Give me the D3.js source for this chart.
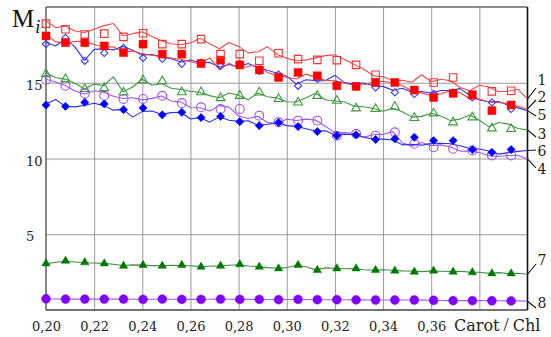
<!DOCTYPE html>
<html>
<head>
<meta charset="utf-8">
<script src="https://cdn.jsdelivr.net/npm/d3@7"></script>
<style>
  body { margin: 0; background: #fff; }
  svg { display: block; }
</style>
</head>
<body>
<svg id="chart" width="551" height="337"></svg>
<script>
// x positions of the markers and of the (denser) line points
var xMarks = [0.2000, 0.2081, 0.2161, 0.2242, 0.2322, 0.2403, 0.2483, 0.2564, 0.2644, 0.2725,
  0.2805, 0.2886, 0.2966, 0.3047, 0.3127, 0.3208, 0.3288, 0.3369, 0.3449, 0.3530,
  0.3610, 0.3691, 0.3771, 0.3852, 0.3932];
var xLine = [0.200, 0.204, 0.208, 0.212, 0.216, 0.220, 0.224, 0.228, 0.232, 0.236,
  0.240, 0.244, 0.248, 0.252, 0.256, 0.260, 0.264, 0.268, 0.272, 0.276,
  0.280, 0.284, 0.288, 0.292, 0.296, 0.300, 0.304, 0.308, 0.312, 0.316,
  0.320, 0.324, 0.328, 0.332, 0.336, 0.340, 0.344, 0.348, 0.352, 0.356,
  0.360, 0.364, 0.368, 0.372, 0.376, 0.380, 0.384, 0.388, 0.392, 0.396, 0.400];

var xTickLabels = [0.20, 0.22, 0.24, 0.26, 0.28, 0.30, 0.32, 0.34, 0.36];
var xGrid = [0.22, 0.24, 0.26, 0.28, 0.30, 0.32, 0.34, 0.36, 0.38];
var yTicks = [5, 10, 15];

// line values (on xLine)
var line1 = [19.08,18.64,18.75,18.42,18.32,18.53,18.77,18.91,18.09,18.24,
  18.36,18.05,17.76,17.57,17.51,17.63,17.93,17.57,17.24,17.66,
  17.40,16.97,17.05,17.37,16.87,16.61,16.45,16.51,16.64,16.79,
  16.84,16.53,16.20,15.89,15.46,15.39,15.15,15.17,15.03,15.53,
  15.07,15.23,15.13,14.69,14.47,14.84,14.72,14.41,14.44,14.57,13.93];
var line2 = [18.20,17.70,17.63,17.72,17.73,17.53,17.36,17.38,17.02,17.09,
  16.92,16.82,16.72,16.63,16.55,16.39,16.24,16.64,15.87,16.28,
  15.97,16.07,16.22,15.67,15.46,15.36,15.25,15.57,15.37,15.16,
  15.13,14.97,14.83,14.87,15.05,15.10,15.00,14.82,14.45,14.33,
  14.16,14.27,14.47,14.36,13.93,13.93,13.73,13.70,13.62,13.45,13.27];
var line5 = [17.65,17.43,17.89,17.37,16.48,17.20,17.24,17.17,17.40,17.14,
  16.82,16.87,16.71,16.58,16.37,16.50,16.34,16.33,16.04,16.20,
  16.05,16.27,16.00,15.82,15.63,15.43,14.91,15.20,15.14,15.13,
  15.49,15.01,14.91,14.98,14.80,14.76,14.51,14.64,14.37,14.42,
  14.32,14.49,14.49,14.61,14.18,13.86,13.75,13.76,13.52,13.34,13.16];
var line3 = [15.66,15.35,15.24,14.97,14.59,14.91,14.82,15.39,14.41,14.72,
  15.23,14.84,14.95,14.64,14.55,14.44,14.36,14.15,14.01,14.32,
  14.18,13.88,14.32,14.08,14.00,13.75,13.73,14.01,14.31,13.88,
  13.80,13.73,13.46,13.42,13.30,13.12,13.31,13.09,12.73,12.78,
  12.99,12.81,12.50,12.60,12.87,12.52,12.09,12.38,12.27,11.98,11.89];
var line6 = [13.60,13.90,13.45,13.41,13.52,13.65,13.49,13.19,13.24,12.73,
  13.11,13.14,12.91,13.03,13.05,12.61,12.70,12.40,12.76,12.53,
  12.45,12.49,12.19,12.26,12.35,12.17,12.12,11.96,11.81,11.83,
  11.57,11.61,11.57,11.40,11.28,11.28,11.22,10.90,10.93,10.88,
  11.00,11.01,10.97,10.84,10.66,10.63,10.49,10.29,10.39,10.47,10.53];
var line4 = [15.23,15.05,14.82,14.45,14.26,14.47,14.37,14.11,13.96,14.01,
  13.87,13.97,14.12,13.80,13.72,13.37,13.35,13.14,13.49,13.39,
  12.80,12.64,12.79,12.38,12.30,12.60,12.51,12.60,12.53,12.13,
  11.71,11.71,11.64,11.41,11.57,11.59,11.78,11.04,10.82,11.05,
  10.84,10.90,10.76,10.49,10.49,10.39,10.18,10.13,10.20,10.20,9.98];
var line7 = [3.05,3.15,3.22,3.17,3.12,3.10,3.08,3.02,2.94,2.98,
  2.96,2.93,2.91,2.95,2.94,2.92,2.86,2.89,2.91,2.95,
  2.99,2.90,2.86,2.80,2.76,2.80,2.94,2.85,2.65,2.78,
  2.76,2.72,2.74,2.66,2.63,2.66,2.62,2.58,2.57,2.53,
  2.58,2.56,2.54,2.56,2.50,2.49,2.42,2.47,2.41,2.43,2.36];
var line8 = [0.74,0.73,0.72,0.72,0.72,0.72,0.72,0.72,0.72,0.71,
  0.70,0.71,0.72,0.71,0.70,0.70,0.70,0.71,0.72,0.71,
  0.70,0.70,0.70,0.69,0.68,0.69,0.70,0.69,0.68,0.68,
  0.68,0.68,0.67,0.67,0.66,0.66,0.66,0.66,0.66,0.65,
  0.64,0.63,0.62,0.62,0.62,0.62,0.61,0.61,0.60,0.60,0.58];

// marker values (on xMarks), null = marker not visible
var marks1 = [18.90,18.53,18.19,18.24,18.03,18.27,17.55,17.55,17.88,16.89,16.89,16.45,16.95,
  16.56,16.51,16.49,16.18,15.53,null,null,15.02,15.35,null,14.43,14.47];
var marks2 = [18.09,17.65,17.65,17.43,16.99,17.55,16.89,16.89,16.27,16.49,16.18,15.84,15.35,
  15.68,15.46,14.80,14.76,15.02,15.02,14.52,14.03,14.30,14.21,13.16,13.53];
var marks5 = [17.55,17.96,16.45,16.97,17.30,16.64,16.58,16.25,16.32,16.12,16.25,15.79,15.53,
  14.80,15.26,14.87,14.76,14.69,14.36,14.26,14.26,14.34,14.03,13.70,13.27];
var marks3 = [15.57,15.24,14.59,14.65,14.36,15.16,15.10,14.38,14.38,13.99,14.14,14.36,13.93,
  13.70,14.14,13.82,13.31,13.27,13.42,12.68,12.98,12.39,12.72,11.99,11.95];
var marks6 = [13.53,13.44,13.70,13.60,13.22,13.34,12.88,13.05,12.70,12.78,12.43,12.17,12.37,
  12.11,11.78,11.51,11.56,11.25,11.30,11.40,11.18,11.18,10.59,10.41,10.59];
var marks4 = [15.20,14.80,14.28,14.14,13.93,13.93,14.14,13.66,13.38,13.27,13.27,12.83,12.39,
  12.50,12.50,11.51,11.63,11.51,11.73,10.97,10.74,10.64,10.53,10.20,10.20];
var marks7 = [3.07,3.24,3.14,3.07,2.91,2.96,2.91,2.96,2.85,2.91,3.01,2.85,2.74,
  2.96,2.63,2.74,2.74,2.63,2.59,2.52,2.59,2.52,2.48,2.41,2.41];
var marks8 = [0.74,0.72,0.72,0.72,0.72,0.70,0.72,0.70,0.70,0.72,0.70,0.70,0.68,
  0.70,0.68,0.68,0.67,0.66,0.66,0.66,0.64,0.62,0.62,0.61,0.60];

var seriesNames = ["1", "2", "5", "3", "6", "4", "7", "8"];

// drawing order: bottom first
var series = [
  { name: "8", line: line8, marks: marks8, lc: "#a060ff", mc: "#8000ff", sym: d3.symbolCircle, size: 62, fill: true },
  { name: "7", line: line7, marks: marks7, lc: "#3f8f3f", mc: "#007800", sym: d3.symbolTriangle, size: 30, fill: true },
  { name: "4", line: line4, marks: marks4, lc: "#a455f2", mc: "#a050f0", sym: d3.symbolCircle, size: 62, fill: false },
  { name: "6", line: line6, marks: marks6, lc: "#2d2df2", mc: "#0000ff", sym: d3.symbolSquare, size: 34, fill: true, rot: 45 },
  { name: "3", line: line3, marks: marks3, lc: "#3f983f", mc: "#3c9a3c", sym: d3.symbolTriangle, size: 34, fill: false },
  { name: "5", line: line5, marks: marks5, lc: "#3535f2", mc: "#3a3af5", sym: d3.symbolSquare, size: 26, fill: false, rot: 45 },
  { name: "2", line: line2, marks: marks2, lc: "#f24444", mc: "#ff0000", sym: d3.symbolSquare, size: 64, fill: true },
  { name: "1", line: line1, marks: marks1, lc: "#f24a4a", mc: "#ee3535", sym: d3.symbolSquare, size: 56, fill: false }
];

var svg = d3.select("#chart");
var margin = {top: 7, left: 46, right: 23.5, bottom: 27},
    width = +svg.attr("width") - margin.left - margin.right,
    height = +svg.attr("height") - margin.top - margin.bottom;
var g = svg.append("g").attr("transform", "translate(" + margin.left + "," + margin.top + ")");

var x = d3.scaleLinear().domain([0.20, 0.40]).range([0, width]);
var y = d3.scaleLinear().domain([0, 20]).range([height, 0]);

var numFont = "'DejaVu Serif', serif";

// grid
g.append("g")
    .attr("transform", "translate(0," + height + ")")
    .call(d3.axisBottom(x).tickValues(xGrid).tickSize(height).tickFormat(""))
    .call(function(s) { s.select(".domain").remove(); })
    .selectAll("line")
      .attr("transform", "translate(0," + (-height) + ")")
      .attr("stroke", "#9a9a9a");
g.append("g")
    .call(d3.axisLeft(y).tickValues(yTicks).tickSize(-width).tickFormat(""))
    .call(function(s) { s.select(".domain").remove(); })
    .selectAll("line").attr("stroke", "#9a9a9a");

// tick labels
var xa = g.append("g")
    .attr("transform", "translate(0," + height + ")")
    .call(d3.axisBottom(x).tickValues(xTickLabels).tickSize(0).tickPadding(12)
      .tickFormat(function(d) { return d.toFixed(2).replace(".", ","); }));
xa.select(".domain").remove();
xa.selectAll("text").attr("font-family", numFont).attr("font-size", 13).attr("fill", "#222");

var ya = g.append("g")
    .call(d3.axisLeft(y).tickValues(yTicks).tickSize(0));
ya.select(".domain").remove();
ya.selectAll("text")
    .attr("font-family", numFont).attr("font-size", 13).attr("fill", "#222")
    .attr("text-anchor", "start").attr("x", -20).attr("dy", "0.5em");

// frame
g.append("line").attr("x1", 0).attr("x2", width).attr("y1", 0).attr("y2", 0)
    .attr("stroke", "#666").attr("stroke-width", 1.4);
g.append("line").attr("x1", 0).attr("x2", width).attr("y1", height).attr("y2", height)
    .attr("stroke", "#444").attr("stroke-width", 1.4);
g.append("line").attr("x1", 0).attr("x2", 0).attr("y1", 0).attr("y2", height)
    .attr("stroke", "#555").attr("stroke-width", 1.4);
g.append("line").attr("x1", width).attr("x2", width).attr("y1", 0).attr("y2", height)
    .attr("stroke", "#111").attr("stroke-width", 1.6);

// lines
var line = d3.line()
    .x(function(d, i) { return x(xLine[i]); })
    .y(function(d) { return y(d); });

series.forEach(function(s) {
  g.append("path")
      .datum(s.line)
      .attr("fill", "none")
      .attr("stroke", s.lc)
      .attr("stroke-width", 1.1)
      .attr("stroke-linejoin", "round")
      .attr("d", line);
});

// markers
series.forEach(function(s) {
  var pts = s.marks.map(function(v, i) { return {x: xMarks[i], v: v}; })
    .filter(function(p) { return p.v !== null; });
  g.append("g").selectAll("path")
    .data(pts)
    .enter().append("path")
      .attr("d", d3.symbol().type(s.sym).size(s.size))
      .attr("transform", function(p) {
        return "translate(" + x(p.x) + "," + y(p.v) + ")" + (s.rot ? " rotate(" + s.rot + ")" : "");
      })
      .attr("fill", s.fill ? s.mc : "none")
      .attr("stroke", s.mc)
      .attr("stroke-width", s.fill ? 0.5 : 1.1);
});

// series labels with leader lines (label baseline / leader end, px)
var labelPos = {
  "1": {ty: 85, ly: 88}, "2": {ty: 102, ly: 100}, "5": {ty: 120, ly: 116},
  "3": {ty: 139, ly: 137}, "6": {ty: 156, ly: 150}, "4": {ty: 174, ly: 168},
  "7": {ty: 265, ly: 264}, "8": {ty: 308, ly: 308}
};
seriesNames.forEach(function(n) {
  var s = series.filter(function(d) { return d.name === n; })[0];
  var p = labelPos[n];
  var last = s.line[s.line.length - 1];
  svg.append("line")
      .attr("x1", margin.left + x(xLine[xLine.length - 1]))
      .attr("y1", margin.top + y(last))
      .attr("x2", 536).attr("y2", p.ly)
      .attr("stroke", "#111").attr("stroke-width", 1.1);
  svg.append("text")
      .attr("x", 537.5).attr("y", p.ty)
      .attr("font-family", numFont).attr("font-size", 14).attr("fill", "#222")
      .text(n);
});

// axis titles
var mt = svg.append("text")
    .attr("x", 12).attr("y", 27)
    .attr("font-family", "'Liberation Serif', serif").attr("fill", "#111");
mt.append("tspan").attr("font-size", 25).text("M");
mt.append("tspan").attr("font-size", 18).attr("font-style", "italic").attr("dx", 1).attr("dy", 6).text("i");

var xt = svg.append("text")
    .attr("x", 454).attr("y", 331)
    .attr("font-family", numFont).attr("font-size", 16).attr("fill", "#222");
xt.append("tspan").text("Carot");
xt.append("tspan").attr("dx", 4).attr("font-size", 19).attr("font-family", "'Liberation Serif', serif").text("/");
xt.append("tspan").attr("dx", 4).text("Chl");
</script>
</body>
</html>
